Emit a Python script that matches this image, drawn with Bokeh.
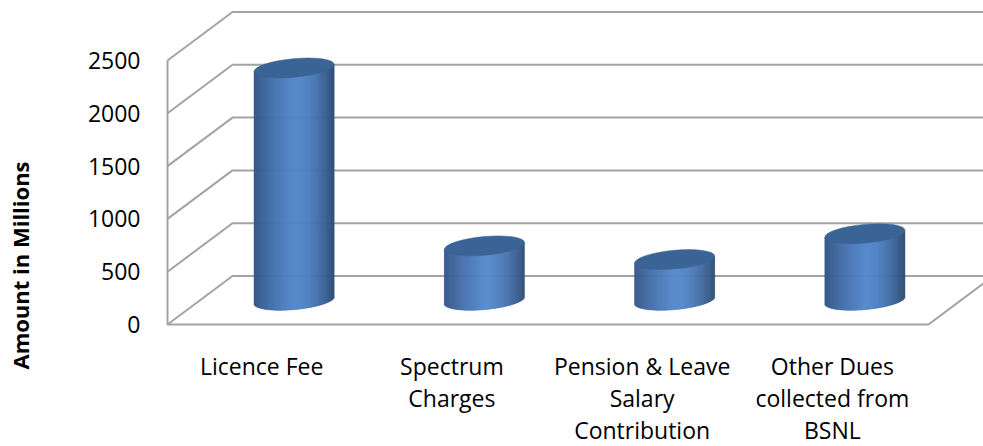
from bokeh.plotting import figure
from bokeh.embed import file_html
from bokeh.resources import INLINE
from bokeh.models import FixedTicker, Label, LinearAxis, Range1d
import numpy as np

categories = ["Licence Fee", "Spectrum\nCharges", "Pension & Leave\nSalary\nContribution", "Other Dues\ncollected from\nBSNL"]
values = [2200, 515, 385, 630]
y_ticks = [0, 500, 1000, 1500, 2000, 2500]
axis_title = "Amount in Millions"

FONT = "Open Sans"
GRID = "#a3a3a3"
PX_X = 190.25            # pixels per category slot
PX_Y = 0.1056            # pixels per value unit
DX, DY = 65 / PX_X, 48.5 / PX_Y   # oblique depth of the 3-D box

p = figure(width=983, height=446, output_backend="svg", toolbar_location=None,
           x_range=Range1d(-167 / PX_X, 816 / PX_X), y_range=Range1d(-122 / PX_Y, 324 / PX_Y),
           min_border_left=0, min_border_right=0, min_border_top=0, min_border_bottom=0,
           x_axis_type=None, y_axis_type=None, outline_line_color=None)
p.grid.visible = False

# walls and floor
for v in y_ticks:
    p.line([0, DX, 10], [v, v + DY, v + DY], line_color=GRID, line_width=2)
p.line([0, 0, 4, 4 + DX], [y_ticks[-1], 0, 0, DY], line_color=GRID, line_width=2)

# cylinders
n = 80
half = 40.0
u = np.linspace(-half, half, n + 1)
mid = (u[:-1] + u[1:]) / 2
t = (mid + half) / (2 * half)
dark_l, light, dark_r = np.array([50, 84, 132]), np.array([85, 137, 205]), np.array([46, 76, 118])
cols = []
for ti in t:
    if ti < 0.5:
        c = dark_l + (light - dark_l) * (ti / 0.5) ** 0.8
    else:
        c = light + (dark_r - light) * ((ti - 0.5) / 0.5) ** 1.8
    cols.append("#%02x%02x%02x" % tuple(int(x) for x in c))
slope = 0.0875
minor = 9.37
for i, val in enumerate(values):
    cx = i + 0.5 + DX / 2 - 1 / PX_X
    base = DY / 2
    left = cx + u[:-1] / PX_X
    right = cx + u[1:] / PX_X
    lower = base + (slope * mid - minor * np.sqrt(1 - (mid / half) ** 2)) / PX_Y
    upper = base + val + slope * mid / PX_Y
    p.quad(left=left, right=right, bottom=lower, top=upper, fill_color=cols, line_color=cols, line_width=0.6)
    p.ellipse(x=[cx], y=[base + val], width=80.4, height=18.6, width_units="screen", height_units="screen",
              angle=5.3, angle_units="deg", fill_color="#3a6396", line_color="#3a6396", line_width=0.5)

# axes
yax = LinearAxis(ticker=FixedTicker(ticks=y_ticks), axis_line_color=None, major_tick_line_color=None,
                 minor_tick_line_color=None, major_label_standoff=21, fixed_location=0,
                 major_label_text_font=FONT, major_label_text_font_size="23px", major_label_text_color="#000000")
p.add_layout(yax, "left")
xt = [i + 0.5 - 1 / PX_X for i in range(len(categories))]
xax = LinearAxis(ticker=FixedTicker(ticks=xt), axis_line_color=None, major_tick_line_color=None,
                 minor_tick_line_color=None, major_label_standoff=19, fixed_location=0,
                 major_label_overrides={k: c for k, c in zip(xt, categories)},
                 major_label_text_font=FONT, major_label_text_font_size="23px", major_label_text_color="#000000",
                 major_label_text_line_height=1.0)
p.add_layout(xax, "below")

p.add_layout(Label(x=19, y=181, x_units="screen", y_units="screen", text=axis_title, angle=90, angle_units="deg",
                   text_font=FONT, text_font_style="bold", text_font_size="22px", text_align="center",
                   text_baseline="middle", text_color="#000000"))

open("out.html", "w").write(file_html(p, INLINE))
